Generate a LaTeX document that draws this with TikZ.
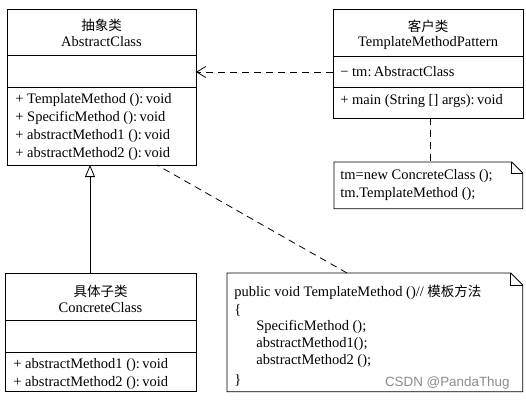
\documentclass[tikz,border=0pt]{standalone}
\usepackage{fontspec}
\setmainfont{Liberation Serif}
\newfontfamily\cjk{Noto Sans CJK SC}
\newfontfamily\wmfont{Liberation Sans}
\usetikzlibrary{arrows.meta}
\begin{document}
\begin{tikzpicture}[x=1pt,y=-1pt,
  line width=0.8pt,
  box/.style={draw, rectangle, anchor=north west, inner sep=0pt},
  hidden/.style={rectangle, anchor=north west, inner sep=0pt},
  txt/.style={anchor=west, inner sep=0pt, font=\fontsize{14.5}{16}\selectfont},
  ctxt/.style={anchor=center, inner sep=0pt, font=\fontsize{14.5}{16}\selectfont},
  cjktxt/.style={anchor=center, inner sep=0pt, font=\cjk\fontsize{13.5}{16}\selectfont},
  dep/.style={dashed, dash pattern=on 7pt off 5pt}
]
\useasboundingbox (0,0) rectangle (526,401);
\fill[white] (0,0) rectangle (526,401);

% Abstract class
\node[box, minimum width=189pt, minimum height=156pt] (ac) at (7,9) {};
\draw (7,55) -- (196,55);
\draw (7,87) -- (196,87);
\node[cjktxt] (acn1) at (101.5,25) {抽象类};
\node[ctxt] (acn2) at (101.5,42) {AbstractClass};
\node[txt] (acm1) at (15,100) {+ TemplateMethod ():\,void};
\node[txt] (acm2) at (15,118) {+ SpecificMethod ():\,void};
\node[txt] (acm3) at (15,136) {+ abstractMethod1 ():\,void};
\node[txt] (acm4) at (15,154) {+ abstractMethod2 ():\,void};

% Client class
\node[box, minimum width=190pt, minimum height=109pt] (cl) at (333,9) {};
\draw (333,56) -- (523,56);
\draw (333,87) -- (523,87);
\node[cjktxt] (cln1) at (428,26) {客户类};
\node[ctxt] (cln2) at (428,43) {TemplateMethodPattern};
\node[txt] (cla1) at (340,72) {− tm:\,AbstractClass};
\node[txt] (clm1) at (340,101) {+ main (String [] args):\,void};

% Note 1
\node[hidden, minimum width=188pt, minimum height=46pt] (n1) at (334,162) {};
\draw (n1.south west) -- (n1.north west) -- ([xshift=-11pt]n1.north east)
  -- ([yshift=-11pt]n1.north east) -- (n1.south east) -- cycle;
\draw ([xshift=-11pt]n1.north east) -- ([xshift=-11pt,yshift=-11pt]n1.north east)
  -- ([yshift=-11pt]n1.north east);
\node[txt] (n1t1) at (340,176) {tm=new ConcreteClass ();};
\node[txt] (n1t2) at (340,194) {tm.TemplateMethod ();};

% Concrete class
\node[box, minimum width=191pt, minimum height=118pt] (cc) at (5,273) {};
\draw (5,320) -- (196,320);
\draw (5,352) -- (196,352);
\node[cjktxt] (ccn1) at (100.5,291) {具体子类};
\node[ctxt] (ccn2) at (100.5,308) {ConcreteClass};
\node[txt] (ccm1) at (13,365) {+ abstractMethod1 ():\,void};
\node[txt] (ccm2) at (13,383) {+ abstractMethod2 ():\,void};

% Note 2
\node[hidden, minimum width=295pt, minimum height=118pt] (n2) at (227,273) {};
\draw (n2.south west) -- (n2.north west) -- ([xshift=-12pt]n2.north east)
  -- ([yshift=-12pt]n2.north east) -- (n2.south east) -- cycle;
\draw ([xshift=-12pt]n2.north east) -- ([xshift=-12pt,yshift=-12pt]n2.north east)
  -- ([yshift=-12pt]n2.north east);
\node[txt] (n2t1) at (234,292) {public void TemplateMethod ()// {\cjk\fontsize{13.5}{16}\selectfont 模板方法}};
\node[txt] (n2t2) at (234,310) {\{};
\node[txt] (n2t3) at (256,327) {SpecificMethod ();};
\node[txt] (n2t4) at (256,344) {abstractMethod1();};
\node[txt] (n2t5) at (256,361) {abstractMethod2 ();};
\node[txt] (n2t6) at (234,380) {\}};
\node[anchor=east, inner sep=0pt, text=black!45, font=\wmfont\fontsize{13.4}{15}\selectfont] (wm) at (510,383) {CSDN @PandaThug};

% Connectors
\coordinate (clL) at (333,72);
\coordinate (acR) at (196,72);
\draw[dep, -{Straight Barb[length=9pt,width=11pt,line width=0.8pt]}] (clL) -- (acR);
\coordinate (clB) at (430,118);
\coordinate (n1T) at (430,162);
\draw[dep] (clB) -- (n1T);
\coordinate (ccT) at (90,273);
\coordinate (acB) at (90,165);
\draw[-{Triangle[open,length=12pt,width=10pt]}] (ccT) -- (acB);
\coordinate (n2T) at (347,273);
\coordinate (acB2) at (157,165);
\draw[dep] (n2T) -- (acB2);
\end{tikzpicture}
\end{document}
